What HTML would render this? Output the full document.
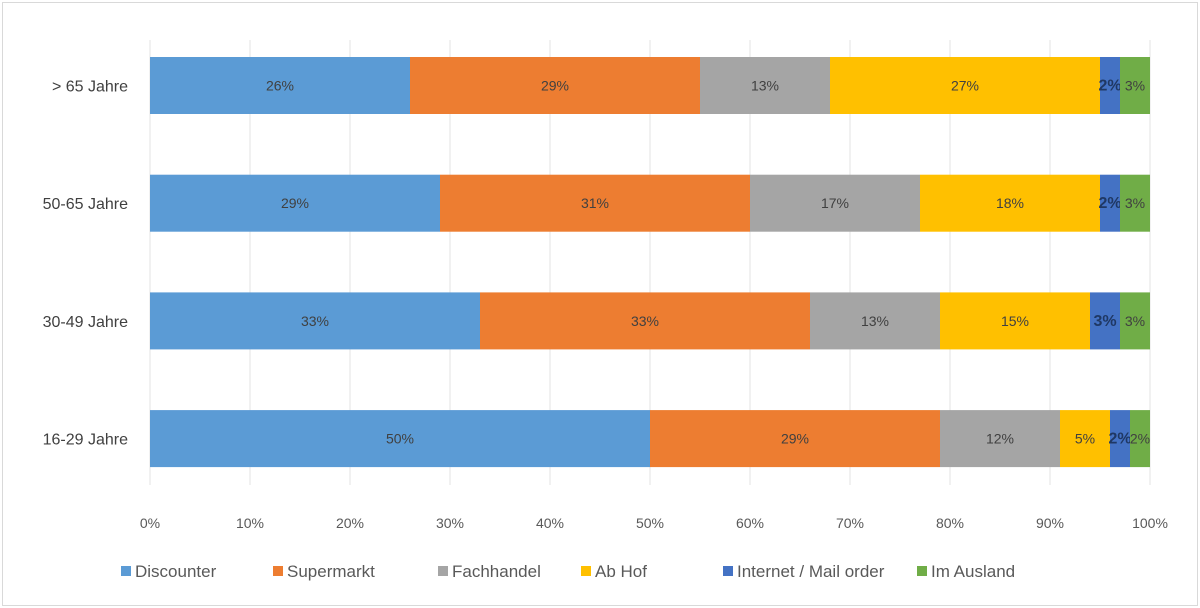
<!DOCTYPE html>
<html><head><meta charset="utf-8"><style>
html,body{margin:0;padding:0;background:#fff;}
svg{display:block;font-family:"Liberation Sans",sans-serif;}
</style></head><body>
<svg id="chart" width="1200" height="608" xmlns="http://www.w3.org/2000/svg">
<rect x="2.5" y="2.5" width="1195" height="603" fill="#fff" stroke="#d9d9d9"/>
<g id="grid"></g><g id="bars"></g><g id="axis"></g><g id="legend"></g>
</svg>
<script>
const categories = ["> 65 Jahre","50-65 Jahre","30-49 Jahre","16-29 Jahre"];
const seriesNames = ["Discounter","Supermarkt","Fachhandel","Ab Hof","Internet / Mail order","Im Ausland"];
const discounter = [26,29,33,50];
const supermarkt = [29,31,33,29];
const fachhandel = [13,17,13,12];
const abHof = [27,18,15,5];
const internet = [2,2,3,2];
const ausland = [3,3,3,2];
const tickValues = [0,10,20,30,40,50,60,70,80,90,100];
const colors = ["#5b9bd5","#ed7d31","#a5a5a5","#ffc000","#4472c4","#70ad47"];
const series = [discounter,supermarkt,fachhandel,abHof,internet,ausland];
const NS="http://www.w3.org/2000/svg";
const x0=150,x1=1150;
const xs=v=>x0+(x1-x0)*v/100;
const yBand=i=>57+i*117.7;
const bh=57;
function mk(tag,attrs,parent){const e=document.createElementNS(NS,tag);for(const k in attrs)e.setAttribute(k,attrs[k]);parent.appendChild(e);return e;}
const grid=document.getElementById('grid'),bars=document.getElementById('bars'),axis=document.getElementById('axis'),legend=document.getElementById('legend');
tickValues.forEach(t=>{
  const l=mk('line',{x1:xs(t),x2:xs(t),y1:40,y2:485,stroke:'#e3e3e3','stroke-width':1},grid);
  
  
  const tx=mk('text',{x:xs(t),y:528,'text-anchor':'middle','font-size':14,fill:'#595959'},axis);
  tx.textContent=t+'%';
  
  
});
categories.forEach((c,i)=>{
  const y=yBand(i);
  const lab=mk('text',{x:128,y:y+bh/2+6,'text-anchor':'end','font-size':16,fill:'#404040'},axis);
  lab.textContent=c;
  
  
  let acc=0;
  series.forEach((s,j)=>{
    const v=s[i];
    const r=mk('rect',{x:xs(acc),y:y,width:xs(acc+v)-xs(acc),height:bh,fill:colors[j]},bars);
    
    
    const dark=j===4;
    const t=mk('text',{x:(xs(acc)+xs(acc+v))/2,y:y+bh/2+5,'text-anchor':'middle','font-size':dark?16:14,'font-weight':dark?'bold':'normal',fill:dark?'#1f3864':'#404040'},bars);
    t.textContent=v+'%';
    
    
    acc+=v;
  });
});
const lx=[121,273,438,581,723,917];
seriesNames.forEach((n,j)=>{
  const g=mk('g',{},legend);
  
  
  mk('rect',{x:lx[j],y:566,width:10,height:10,fill:colors[j]},g);
  const t=mk('text',{x:lx[j]+14,y:577,'font-size':17,fill:'#595959'},g);
  t.textContent=n;
});
</script>
</body></html>
